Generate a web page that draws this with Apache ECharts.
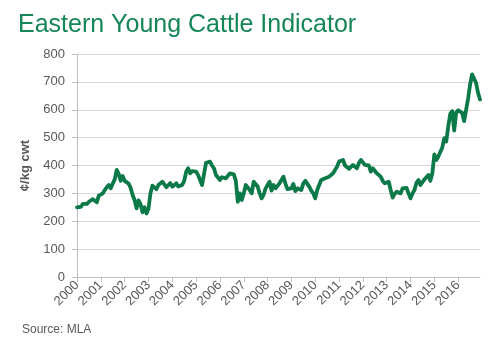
<!DOCTYPE html>
<html>
<head>
<meta charset="utf-8">
<script src="https://cdn.jsdelivr.net/npm/echarts@6/dist/echarts.min.js"></script>
<style>html,body{margin:0;padding:0;background:#fff}#c{width:500px;height:345px}</style>
</head>
<body>
<div id="c"></div>
<script>
// Monthly values (¢/kg cwt), Jan 2000 .. Dec 2016
const startYear = 2000;
const yearTicks = [2000,2001,2002,2003,2004,2005,2006,2007,2008,2009,2010,2011,2012,2013,2014,2015,2016];
const yTicks = [0,100,200,300,400,500,600,700,800];
const v2000 = [250, 248, 252, 262, 258, 262, 270, 266, 279, 272, 268, 292];
const v2001 = [292, 300, 312, 322, 330, 318, 335, 350, 384, 370, 345, 362];
const v2002 = [345, 350, 335, 320, 294, 276, 246, 275, 262, 232, 250, 228];
const v2003 = [245, 300, 328, 332, 315, 330, 335, 342, 336, 322, 318, 337];
const v2004 = [324, 330, 336, 325, 318, 330, 345, 378, 390, 372, 380, 384];
const v2005 = [378, 366, 372, 330, 335, 410, 415, 414, 400, 390, 366, 360];
const v2006 = [348, 358, 360, 354, 356, 372, 378, 368, 345, 270, 300, 276];
const v2007 = [300, 330, 336, 312, 300, 342, 335, 325, 300, 282, 295, 318];
const v2008 = [330, 342, 310, 330, 318, 312, 336, 340, 360, 335, 315, 312];
const v2009 = [318, 334, 308, 318, 314, 312, 336, 345, 340, 324, 310, 300];
const v2010 = [282, 312, 318, 348, 348, 354, 352, 360, 366, 372, 378, 396];
const v2011 = [414, 410, 420, 400, 396, 388, 390, 402, 395, 390, 409, 420];
const v2012 = [427, 402, 409, 400, 378, 390, 388, 372, 365, 360, 345, 336];
const v2013 = [330, 342, 312, 285, 298, 306, 310, 300, 318, 312, 320, 300];
const v2014 = [282, 300, 312, 338, 348, 330, 335, 350, 354, 366, 345, 372];
const v2015 = [440, 420, 432, 427, 465, 498, 486, 540, 585, 595, 525, 590];
const v2016 = [598, 601, 589, 559, 553, 640, 690, 727, 720, 697, 661, 637];

const values = [].concat(v2000,v2001,v2002,v2003,v2004,v2005,v2006,v2007,v2008,
  v2009,v2010,v2011,v2012,v2013,v2014,v2015,v2016);
const seriesData = values.map((v,i)=>[startYear + i/12, v]);
const xMax = startYear + (values.length-1)/12;

const chart = echarts.init(document.getElementById('c'), null, {renderer:'canvas'});
const font = 'Liberation Sans, Arial, sans-serif';
chart.setOption({
  animation:false,
  backgroundColor:'#fff',
  title:{
    text:'Eastern Young Cattle Indicator',
    left:13, top:8,
    textStyle:{color:'#168558', fontSize:25, fontWeight:'normal', fontFamily:font}
  },
  graphic:[{
    type:'text', left:22, top:324,
    style:{text:'Source: MLA', fill:'#595959', font:'12px '+font}
  }],
  grid:{left:77, right:20, top:54, bottom:68, containLabel:false},
  xAxis:{
    type:'value', min:startYear, max:xMax,
    axisLine:{show:true, lineStyle:{color:'#BFBFBF', width:1}},
    axisTick:{show:true, length:5, customValues:yearTicks, lineStyle:{color:'#BFBFBF'}},
    axisLabel:{customValues:yearTicks, rotate:45, color:'#595959', fontSize:13, fontFamily:font, margin:6,
      formatter:(v)=>String(Math.round(v))},
    splitLine:{show:false}
  },
  yAxis:{
    type:'value', min:0, max:800, interval:100,
    name:'¢/kg cwt', nameLocation:'middle', nameGap:44, nameRotate:90,
    nameTextStyle:{color:'#595959', fontSize:13, fontWeight:'bold', fontFamily:font},
    axisLine:{show:true, lineStyle:{color:'#BFBFBF', width:1}},
    axisTick:{show:true, length:5, lineStyle:{color:'#BFBFBF'}},
    axisLabel:{color:'#595959', fontSize:13, fontFamily:font, margin:12},
    splitLine:{show:true, lineStyle:{color:'#D9D9D9', width:1}}
  },
  series:[{
    type:'line', data:seriesData, showSymbol:false, symbol:'none',
    lineStyle:{color:'#0B7A48', width:3.8, join:'round', cap:'round'},
    itemStyle:{color:'#0B7A48'}
  }]
});
</script>
</body>
</html>
